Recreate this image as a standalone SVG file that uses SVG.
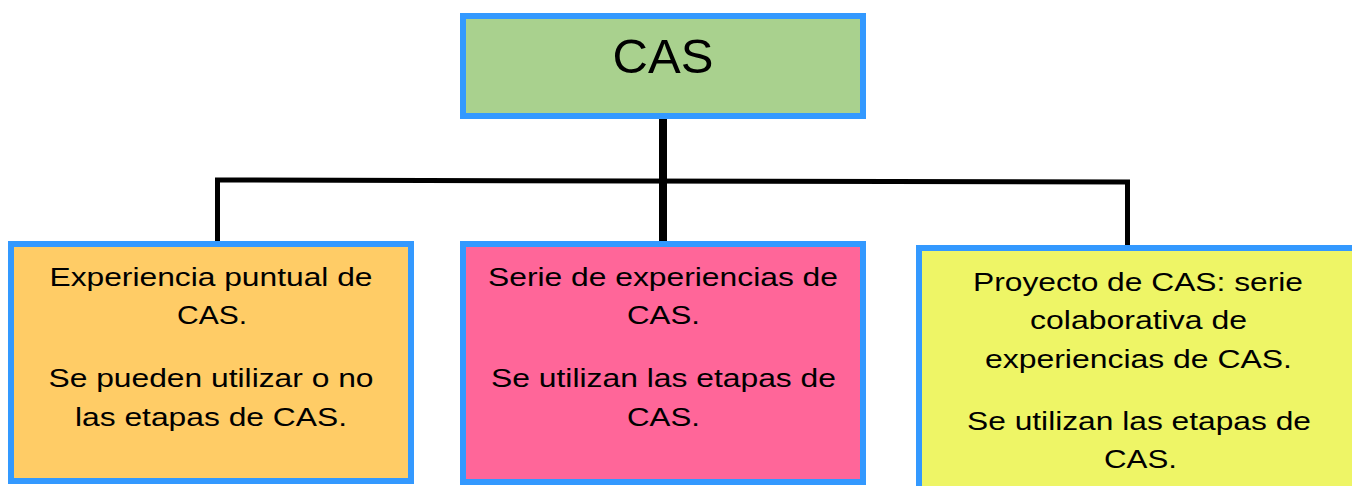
<svg xmlns="http://www.w3.org/2000/svg" width="1352" height="486" viewBox="0 0 1352 486">
<style>
.box{stroke:#3399FF;stroke-width:6}
.t{font-family:"Liberation Sans",Arial,sans-serif;font-size:26.5px;fill:#000;text-anchor:middle}
.ln{stroke:#000;fill:none;stroke-width:5}
</style>
<rect width="1352" height="486" fill="#fff"/>
<g id="connectors">
<polyline class="ln" points="217.5,241 217.5,180 1127.5,182 1127.5,245"/>
<line x1="663" y1="119" x2="663" y2="249" stroke="#000" stroke-width="8"/>
</g>
<g id="cas">
<rect class="box" x="463" y="16" width="400" height="100" fill="#A9D18E"/>
<text x="663" y="73" style="font-family:'Liberation Sans',Arial,sans-serif;font-size:49px;text-anchor:middle">CAS</text>
</g>
<g id="puntual">
<rect class="box" x="11" y="244" width="400" height="237" fill="#FFCC66"/>
<text class="t" x="211" y="286" textLength="323" lengthAdjust="spacingAndGlyphs">Experiencia puntual de</text>
<text class="t" x="212" y="324" textLength="70" lengthAdjust="spacingAndGlyphs">CAS.</text>
<text class="t" x="211" y="387" textLength="325" lengthAdjust="spacingAndGlyphs">Se pueden utilizar o no</text>
<text class="t" x="211" y="426" textLength="272" lengthAdjust="spacingAndGlyphs">las etapas de CAS.</text>
</g>
<g id="serie">
<rect class="box" x="463" y="244" width="400" height="238" fill="#FF6699"/>
<text class="t" x="663" y="286" textLength="350" lengthAdjust="spacingAndGlyphs">Serie de experiencias de</text>
<text class="t" x="663.5" y="324" textLength="73" lengthAdjust="spacingAndGlyphs">CAS.</text>
<text class="t" x="663.5" y="387" textLength="345" lengthAdjust="spacingAndGlyphs">Se utilizan las etapas de</text>
<text class="t" x="663.5" y="426" textLength="73" lengthAdjust="spacingAndGlyphs">CAS.</text>
</g>
<g id="proyecto">
<rect class="box" x="919" y="248" width="450" height="260" fill="#EEF566"/>
<text class="t" x="1138" y="291" textLength="330" lengthAdjust="spacingAndGlyphs">Proyecto de CAS: serie</text>
<text class="t" x="1138.5" y="329" textLength="217" lengthAdjust="spacingAndGlyphs">colaborativa de</text>
<text class="t" x="1138.5" y="368" textLength="307" lengthAdjust="spacingAndGlyphs">experiencias de CAS.</text>
<text class="t" x="1139" y="430" textLength="344" lengthAdjust="spacingAndGlyphs">Se utilizan las etapas de</text>
<text class="t" x="1140.5" y="468" textLength="73" lengthAdjust="spacingAndGlyphs">CAS.</text>
</g>
</svg>
